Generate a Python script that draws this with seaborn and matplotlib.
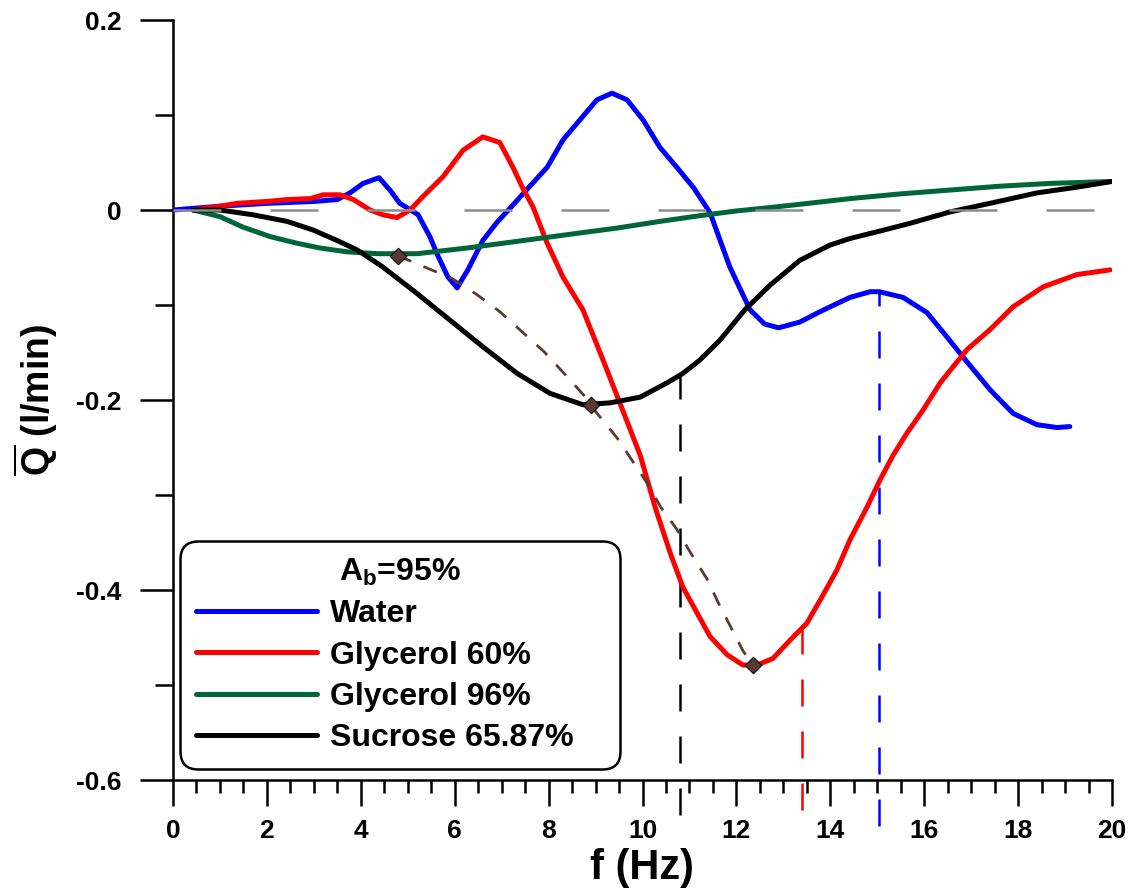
import matplotlib
matplotlib.use("Agg")
import matplotlib.pyplot as plt
import seaborn as sns
from matplotlib.ticker import MultipleLocator, FixedLocator

# ---- mean flow rate vs. frequency, A_b = 95 % ----
water_f = [0, 1, 2, 3, 3.5, 3.77, 4.05, 4.39, 4.62, 4.83, 5.0, 5.22, 5.47, 5.65,
           5.85, 6.05, 6.28, 6.6, 6.9, 7.2, 7.6, 7.97, 8.31, 8.67, 9.03, 9.35,
           9.67, 10.01, 10.37, 10.73, 11.08, 11.44, 11.86, 12.29, 12.6, 12.9,
           13.35, 13.78, 14.42, 14.85, 15.04, 15.55, 16.06, 16.49, 16.83, 17.4,
           17.89, 18.4, 18.83, 19.1]
water_q = [0.0, 0.004, 0.007, 0.009, 0.011, 0.018, 0.028, 0.034, 0.021, 0.007,
           0.002, -0.005, -0.028, -0.049, -0.07, -0.082, -0.063, -0.032, -0.013,
           0.003, 0.025, 0.045, 0.074, 0.095, 0.116, 0.123, 0.116, 0.095, 0.066,
           0.045, 0.024, -0.003, -0.06, -0.105, -0.12, -0.124, -0.118, -0.107,
           -0.092, -0.086, -0.086, -0.092, -0.108, -0.134, -0.155, -0.189,
           -0.214, -0.226, -0.229, -0.228]

gly60_f = [0.43, 1.0, 1.36, 2.0, 2.43, 2.92, 3.2, 3.56, 3.84, 4.2, 4.47, 4.77,
           5.05, 5.32, 5.75, 6.18, 6.6, 6.96, 7.24, 7.45, 7.67, 7.97, 8.31, 8.73,
           9.16, 9.58, 9.95, 10.27, 10.59, 10.86, 11.16, 11.44, 11.8, 12.14,
           12.44, 12.78, 13.14, 13.5, 13.78, 14.14, 14.42, 14.78, 15.06, 15.34,
           15.63, 15.97, 16.34, 16.91, 17.4, 17.89, 18.53, 19.25, 19.96]
gly60_q = [0.0, 0.004, 0.007, 0.009, 0.011, 0.012, 0.016, 0.016, 0.011, 0.0,
           -0.005, -0.008, 0.0, 0.014, 0.035, 0.063, 0.077, 0.071, 0.045, 0.023,
           0.003, -0.035, -0.071, -0.105, -0.158, -0.211, -0.258, -0.313,
           -0.361, -0.397, -0.424, -0.449, -0.468, -0.479, -0.479, -0.472,
           -0.453, -0.435, -0.411, -0.379, -0.347, -0.313, -0.284, -0.258,
           -0.235, -0.211, -0.182, -0.147, -0.126, -0.102, -0.081, -0.068,
           -0.063]

gly96_f = [0.43, 1.0, 1.49, 2.07, 2.64, 3.13, 3.7, 4.35, 5.2, 6.26, 7.33, 8.39,
           9.46, 10.37, 11.22, 12.0, 12.6, 13.35, 14.42, 15.5, 16.55, 17.6,
           18.68, 19.96]
gly96_q = [0.0, -0.007, -0.018, -0.028, -0.035, -0.040, -0.044, -0.046, -0.046,
           -0.040, -0.033, -0.026, -0.019, -0.012, -0.006, -0.001, 0.002, 0.006,
           0.012, 0.017, 0.021, 0.025, 0.028, 0.030]

sucrose_f = [0.43, 1.0, 1.7, 2.43, 2.98, 3.49, 3.92, 4.47, 5.2, 5.9, 6.6, 7.33,
             8.03, 8.73, 9.31, 9.95, 10.52, 10.86, 11.22, 11.65, 12.18, 12.72,
             13.35, 13.99, 14.42, 14.99, 15.7, 16.55, 17.4, 18.4, 19.25, 20.0]
sucrose_q = [0.0, 0.0, -0.005, -0.012, -0.021, -0.032, -0.042, -0.06, -0.088,
             -0.116, -0.144, -0.172, -0.193, -0.205, -0.203, -0.197, -0.182,
             -0.172, -0.158, -0.137, -0.105, -0.079, -0.053, -0.037, -0.03,
             -0.023, -0.014, -0.002, 0.007, 0.018, 0.024, 0.030]

# trend through the minima (diamonds) and its dashed guide
minima_f = [4.79, 8.9, 12.35]
minima_q = [-0.048, -0.205, -0.479]
trend_f = [4.79, 5.26, 5.94, 6.47, 6.96, 7.43, 7.90, 8.33, 8.75, 8.90, 9.46,
           9.73, 10.12, 10.39, 10.73, 11.05, 11.37, 11.61, 11.88, 12.14, 12.35]
trend_q = [-0.048, -0.058, -0.072, -0.089, -0.107, -0.128, -0.149, -0.172,
           -0.195, -0.206, -0.240, -0.260, -0.289, -0.313, -0.336, -0.363,
           -0.388, -0.413, -0.439, -0.464, -0.479]

# vertical markers: frequency, curve value at top, lower end below the axis
vline_f = [10.8, 13.4, 15.04]
vline_top = [-0.172, -0.442, -0.086]
vline_bottom = [-0.637, -0.632, -0.648]
vline_colors = ["black", "#FF0000", "#0000FF"]

labels = ["Water", "Glycerol 60%", "Glycerol 96%", "Sucrose 65.87%"]
colors = ["#0000FF", "#FF0000", "#00663A", "#000000"]

xticks = [0, 2, 4, 6, 8, 10, 12, 14, 16, 18, 20]
xtick_labels = ["0", "2", "4", "6", "8", "10", "12", "14", "16", "18", "20"]
yticks = [-0.6, -0.4, -0.2, 0.0, 0.2]
ytick_labels = ["-0.6", "-0.4", "-0.2", "0", "0.2"]

sns.set_style("ticks")
plt.rcParams.update({
    "font.family": ["Liberation Sans", "DejaVu Sans"],
    "font.weight": "bold",
    "mathtext.fontset": "custom",
    "mathtext.rm": "Liberation Sans:bold",
    "mathtext.it": "Liberation Sans:bold",
    "mathtext.bf": "Liberation Sans:bold",
    "mathtext.default": "bf",
    "axes.linewidth": 1.8,
    "axes.edgecolor": "black",
    "axes.labelcolor": "black",
    "text.color": "black",
    "xtick.color": "black",
    "ytick.color": "black",
})

fig = plt.figure(figsize=(11.35, 8.92), dpi=100)
ax = fig.add_axes([173 / 1135, 112 / 892, 939 / 1135, 760 / 892])

series = [(water_f, water_q), (gly60_f, gly60_q), (gly96_f, gly96_q),
          (sucrose_f, sucrose_q)]
handles = []
for (fx, qy), lab, col in zip(series, labels, colors):
    sns.lineplot(x=fx, y=qy, color=col, lw=3.6, ax=ax, sort=False,
                 estimator=None, label=lab, zorder=3)
    handles.append(ax.lines[-1])
    handles[-1].set_solid_joinstyle("round")

# dashed guide through the minima
sns.lineplot(x=trend_f, y=trend_q, color="#5B3A36", lw=2.0, ax=ax, sort=False,
             estimator=None, zorder=4)
ax.lines[-1].set_dashes((5.2, 4.8))
sns.scatterplot(x=minima_f, y=minima_q, marker="D", s=70, color="#5B3A36",
                edgecolor="black", linewidth=0.8, ax=ax, zorder=6)

# zero reference
ax.axhline(0, color="#8C8C8C", lw=1.8, dashes=(19.2, 19.6), zorder=5)

# vertical frequency markers
for fx, top, bot, col in zip(vline_f, vline_top, vline_bottom, vline_colors):
    ln, = ax.plot([fx, fx], [bot, top], color=col, lw=1.8, clip_on=False,
                  zorder=2)
    ln.set_dashes((10.8, 10.0))

ax.set_xlim(0, 20)
ax.set_ylim(-0.6, 0.2)
sns.despine(ax=ax, top=True, right=True)

ax.xaxis.set_major_locator(FixedLocator(xticks))
ax.set_xticklabels(xtick_labels)
ax.xaxis.set_minor_locator(MultipleLocator(0.5))
ax.yaxis.set_major_locator(FixedLocator(yticks))
ax.set_yticklabels(ytick_labels)
ax.yaxis.set_minor_locator(MultipleLocator(0.1))

ax.tick_params(axis="x", which="major", length=19, width=1.8, pad=9,
               labelsize=19, direction="out")
ax.tick_params(axis="x", which="minor", length=9.5, width=1.8, direction="out")
ax.tick_params(axis="y", which="major", length=24, width=1.8, pad=13,
               labelsize=19, direction="out")
ax.tick_params(axis="y", which="minor", length=13, width=1.8, direction="out")
for t in ax.get_xticklabels() + ax.get_yticklabels():
    t.set_fontweight("bold")

ax.set_xlabel("f (Hz)", fontsize=30, fontweight="bold")
ax.xaxis.set_label_coords(0.5, -0.09)
ax.set_ylabel(r"$\overline{Q}$ (l/min)", fontsize=27, fontweight="bold")
ax.yaxis.set_label_coords(-0.12, 0.5)

leg = ax.legend(handles=handles, labels=labels, loc="lower left",
                bbox_to_anchor=(0.0075, 0.0145, 0.4686, 0.3), mode="expand",
                borderaxespad=0, handlelength=3.8,
                handletextpad=0.4, borderpad=0.5, labelspacing=0.35,
                title=r"$A_b$=95%", title_fontsize=23, frameon=True,
                fancybox=True, prop={"weight": "bold", "size": 23})
leg.get_title().set_fontweight("bold")
frame = leg.get_frame()
frame.set_edgecolor("black")
frame.set_linewidth(1.8)
frame.set_alpha(1)
frame.set_boxstyle("round,pad=0,rounding_size=0.55")
for h in leg.legend_handles:
    h.set_linewidth(3.6)
    h.set_solid_capstyle("round")

fig.savefig("out.png", dpi=100)
